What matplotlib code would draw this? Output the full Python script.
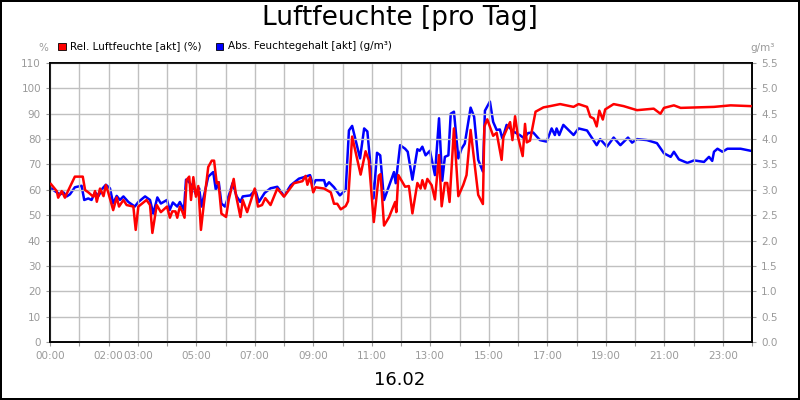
import numpy as np
import matplotlib
matplotlib.use("Agg")
import matplotlib.pyplot as plt
from matplotlib.patches import Rectangle

# ── data (hour of day, value) ──
rel_h = [0.03, 0.23, 0.28, 0.4, 0.51, 0.63, 0.85, 1.12, 1.2, 1.31, 1.48, 1.54, 1.6, 1.71, 1.83, 1.91,
         1.99, 2.16, 2.28, 2.36, 2.51, 2.62, 2.85, 2.93, 3.02, 3.14, 3.3, 3.42, 3.5, 3.65, 3.79, 4.0,
         4.1, 4.18, 4.29, 4.35, 4.44, 4.52, 4.6, 4.67, 4.76, 4.82, 4.9, 4.99, 5.07, 5.16, 5.26, 5.41,
         5.53, 5.61, 5.7, 5.76, 5.86, 6.02, 6.11, 6.28, 6.36, 6.51, 6.59, 6.74, 7.0, 7.11, 7.25, 7.36,
         7.54, 7.77, 8.0, 8.34, 8.63, 8.74, 8.8, 8.89, 9.0, 9.08, 9.37, 9.6, 9.71, 9.82, 9.94, 10.11,
         10.19, 10.33, 10.62, 10.79, 10.9, 11.07, 11.24, 11.3, 11.42, 11.59, 11.8, 11.84, 11.91, 12.14,
         12.27, 12.39, 12.56, 12.67, 12.73, 12.82, 12.9, 13.05, 13.16, 13.3, 13.39, 13.5, 13.58, 13.66,
         13.81, 13.96, 14.13, 14.24, 14.38, 14.64, 14.8, 14.85, 14.95, 15.15, 15.27, 15.44, 15.5, 15.65,
         15.73, 15.81, 15.9, 16.0, 16.16, 16.24, 16.3, 16.41, 16.6, 16.87, 17.1, 17.44, 17.9, 18.07,
         18.36, 18.47, 18.59, 18.69, 18.78, 18.9, 18.98, 19.27, 19.61, 20.07, 20.64, 20.87, 20.99, 21.33,
         21.56, 22.7, 23.27, 23.95]
rel_v = [62.3, 59.5, 56.9, 59.5, 56.9, 59.9, 65.2, 65.2, 59.9, 59, 57.3, 59.5, 55.3, 60.5, 57.5, 61.9,
         59, 52, 57, 53.4, 56, 54, 53.4, 44.2, 53.4, 54.5, 56, 54, 43, 54, 51.2, 53.4,
         49, 51.5, 51.5, 49, 53.4, 51.5, 49, 63.9, 65.2, 56, 65, 57.3, 61.5, 44.2, 54.5, 69,
         71.5, 71.5, 62.6, 63, 50.6, 49.3, 56, 64.3, 57.8, 49.3, 56, 51.2, 60.5, 53.4, 54, 56.7,
         54, 60.5, 57.3, 62.6, 63.4, 65.5, 62, 65, 59, 61, 60.5, 59, 54.5, 54.5, 52.3, 53.6,
         55.5, 81, 66, 75.2, 71.6, 47.3, 65.6, 66.2, 45.9, 49.2, 55.2, 51.2, 65.8, 61.2,
         61.5, 50.7, 62.7, 60.5, 63.8, 60.5, 64.3, 61.8, 56.2, 73.7, 53.5, 62.7, 62.7, 55.2,
         84.2, 57.5, 62, 65.8, 83.6, 58, 54.4, 84.9, 87.8, 81.3, 82.5, 71.8, 80.8, 84.8,
         86.7, 79.6, 89, 80.8, 73.3, 86, 78.7, 79.4, 90.8, 92.5, 93, 93.8, 92.7, 93.8,
         92.7, 88.8, 88.1, 85, 91.2, 87.7, 91.7, 93.8, 93, 91.4, 92, 90, 92.3, 93.3,
         92.3, 92.7, 93.3, 93]

abs_h = [0.03, 0.23, 0.35, 0.46, 0.57, 0.68, 0.85, 1.08, 1.17, 1.31, 1.42, 1.54, 1.66, 1.8, 1.91,
         2.05, 2.16, 2.28, 2.39, 2.51, 2.68, 2.9, 3.02, 3.25, 3.42, 3.53, 3.67, 3.79, 4.0, 4.09,
         4.2, 4.35, 4.44, 4.58, 4.65, 4.76, 4.88, 4.99, 5.1, 5.18, 5.41, 5.58, 5.67, 5.77, 5.86,
         5.98, 6.15, 6.24, 6.38, 6.51, 6.59, 6.85, 7.02, 7.14, 7.34, 7.54, 7.77, 8.0, 8.23, 8.51,
         8.74, 8.89, 9.0, 9.08, 9.37, 9.43, 9.54, 9.71, 9.91, 10.11, 10.22, 10.33, 10.6, 10.74,
         10.85, 11.06, 11.18, 11.29, 11.42, 11.76, 11.82, 11.97, 12.14, 12.23, 12.39, 12.56, 12.64,
         12.73, 12.84, 12.99, 13.16, 13.3, 13.41, 13.5, 13.62, 13.7, 13.81, 13.96, 14.07, 14.18,
         14.38, 14.5, 14.64, 14.8, 14.87, 15.04, 15.15, 15.27, 15.38, 15.47, 15.61, 15.84, 16.06,
         16.2, 16.35, 16.52, 16.75, 16.98, 17.15, 17.26, 17.32, 17.41, 17.55, 17.9, 18.07, 18.36,
         18.69, 18.81, 19.04, 19.27, 19.5, 19.76, 19.9, 20.07, 20.41, 20.75, 20.99, 21.22, 21.33,
         21.5, 21.79, 22.02, 22.36, 22.53, 22.64, 22.7, 22.82, 22.99, 23.16, 23.61, 23.95]
abs_v = [3.03, 2.95, 2.91, 2.95, 2.87, 2.91, 3.05, 3.08, 2.8, 2.83, 2.8, 2.95, 2.88, 3.03, 3.1,
         3.03, 2.73, 2.88, 2.8, 2.87, 2.76, 2.67, 2.76, 2.87, 2.8, 2.53, 2.85, 2.73, 2.8, 2.6,
         2.75, 2.67, 2.76, 2.6, 3.2, 3.15, 3.05, 2.91, 3.03, 2.67, 3.26, 3.35, 3.0, 3.15, 2.73,
         2.67, 2.95, 3.13, 2.87, 2.76, 2.87, 2.89, 3.0, 2.76, 2.94, 3.03, 3.06, 2.88, 3.09, 3.22,
         3.26, 3.29, 3.09, 3.19, 3.19, 3.07, 3.15, 3.05, 2.89, 3.0, 4.17, 4.26, 3.62, 4.21,
         4.15, 2.83, 3.73, 3.68, 2.8, 3.35, 3.13, 3.88, 3.81, 3.75, 3.2, 3.8, 3.77,
         3.85, 3.68, 3.77, 3.29, 4.41, 3.18, 3.65, 3.68, 4.5, 4.54, 3.62, 3.81, 3.91,
         4.62, 4.44, 3.59, 3.36, 4.56, 4.74, 4.34, 4.18, 4.19, 4.0, 4.28, 4.15, 4.08,
         4.02, 4.12, 4.13, 3.98, 3.95, 4.21, 4.08, 4.21, 4.08, 4.28, 4.08, 4.21, 4.17,
         3.88, 4.0, 3.85, 4.03, 3.88, 4.03, 3.93, 4.0, 3.98, 3.92, 3.72, 3.65, 3.75,
         3.6, 3.53, 3.58, 3.55, 3.65, 3.57, 3.75, 3.81, 3.75, 3.81, 3.81, 3.77]

labeled_hours = [0, 2, 3, 5, 7, 9, 11, 13, 15, 17, 19, 21, 23]

GRAY = '#9a9a9a'
fig = plt.figure(figsize=(8, 4), dpi=100)
fig.patch.set_edgecolor('black')
fig.patch.set_linewidth(1.5)

ax = fig.add_axes([0.0625, 0.145, 0.8775, 0.6975])
ax2 = ax.twinx()

ax.plot(rel_h, rel_v, color='#ff0000', lw=1.8, zorder=3)
ax2.plot(abs_h, abs_v, color='#0000ff', lw=1.8, zorder=2)
ax.set_zorder(ax2.get_zorder() + 1)
ax.patch.set_visible(False)

ax.set_xlim(0, 24)
ax.set_ylim(0, 110)
ax2.set_ylim(0, 5.5)
ax.set_yticks(np.arange(0, 111, 10))
ax2.set_yticks(np.arange(0, 5.51, 0.5))
ax2.set_yticklabels([f"{v:.1f}" for v in np.arange(0, 5.51, 0.5)])
ax.set_xticks(range(25))
ax.set_xticklabels([f"{h:02d}:00" if h in labeled_hours else "" for h in range(25)])
ax.grid(True, color='#c0c0c0', lw=1)

for a in (ax, ax2):
    a.tick_params(labelsize=7.5, labelcolor=GRAY, color=GRAY, length=3)
    for s in a.spines.values():
        s.set_color('black')
        s.set_linewidth(1.2)

fig.text(0.5, 0.955, "Luftfeuchte [pro Tag]", ha='center', va='center', fontsize=19)
fig.text(0.5, 0.05, "16.02", ha='center', va='center', fontsize=13)
fig.text(0.054, 0.88, "%", ha='center', va='center', fontsize=7.5, color=GRAY)
fig.text(0.953, 0.88, "g/m³", ha='center', va='center', fontsize=7.5, color=GRAY)

# legend boxes
for x0, col, txt in [(0.073, '#ff0000', "Rel. Luftfeuchte [akt] (%)"),
                     (0.27, '#0000ff', "Abs. Feuchtegehalt [akt] (g/m³)")]:
    fig.patches.append(Rectangle((x0, 0.875), 0.009, 0.018, transform=fig.transFigure,
                                 facecolor=col, edgecolor='black', lw=0.6))
    fig.text(x0 + 0.015, 0.885, txt, ha='left', va='center', fontsize=7.5)

fig.savefig("out.png", dpi=100)
